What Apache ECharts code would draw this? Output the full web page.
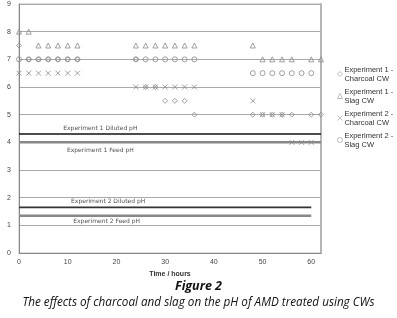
<!DOCTYPE html>
<html>
<head>
<meta charset="utf-8">
<script src="https://cdn.jsdelivr.net/npm/echarts@6/dist/echarts.min.js"></script>
<style>
  html, body { margin: 0; padding: 0; background: #fff; }
  #chart { width: 397px; height: 318px; }
</style>
</head>
<body>
<div id="chart"></div>
<script>
// measured pH, [time in hours, pH]
const exp1Charcoal = [[0, 7.5], [2, 7], [4, 7], [6, 7], [8, 7], [10, 7], [12, 7],
  [24, 7], [26, 6], [28, 6], [30, 5.5], [32, 5.5], [34, 5.5], [36, 5],
  [48, 5], [50, 5], [52, 5], [54, 5], [56, 5], [60, 5], [62, 5]]
const exp1Slag = [[0, 8], [2, 8], [4, 7.5], [6, 7.5], [8, 7.5], [10, 7.5], [12, 7.5],
  [24, 7.5], [26, 7.5], [28, 7.5], [30, 7.5], [32, 7.5], [34, 7.5], [36, 7.5],
  [48, 7.5], [50, 7], [52, 7], [54, 7], [56, 7], [60, 7], [62, 7]]
const exp2Charcoal = [[0, 6.5], [2, 6.5], [4, 6.5], [6, 6.5], [8, 6.5], [10, 6.5], [12, 6.5],
  [24, 6], [26, 6], [28, 6], [30, 6], [32, 6], [34, 6], [36, 6],
  [48, 5.5], [50, 5], [52, 5], [54, 5], [56, 4], [58, 4], [60, 4]]
const exp2Slag = [[0, 7], [2, 7], [4, 7], [6, 7], [8, 7], [10, 7], [12, 7],
  [24, 7], [26, 7], [28, 7], [30, 7], [32, 7], [34, 7], [36, 7],
  [48, 6.5], [50, 6.5], [52, 6.5], [54, 6.5], [56, 6.5], [58, 6.5], [60, 6.5]]

// reference pH levels
const refNames = ['Experiment 1 Diluted pH', 'Experiment 1 Feed pH', 'Experiment 2 Diluted pH', 'Experiment 2 Feed pH']
const refValues = [4.3, 4.0, 1.65, 1.35]
const refEnds = [62, 62, 60, 60]
const refLabelAt = [[16.7, 4.5], [16.7, 3.72], [18.3, 1.88], [18, 1.13]]

const seriesNames = ['Experiment 1 -\nCharcoal CW', 'Experiment 1 -\nSlag CW', 'Experiment 2 -\nCharcoal CW', 'Experiment 2 -\nSlag CW']

const chart = echarts.init(document.getElementById('chart'))
const markerColor = '#8a8a8a'
const xSymbol = 'path://M0,0L10,10M10,0L0,10'

function scatter(name, data, symbol) {
  return {
    name: name,
    type: 'scatter',
    data: data,
    symbol: symbol,
    symbolSize: 5,
    z: 5,
    itemStyle: { color: 'none', borderColor: markerColor, borderWidth: 1 },
  }
}

const refColors = ['#111', '#888', '#333', '#888']
const refSeries = refValues.map((v, i) => ({
  type: 'line',
  data: [[0, v], [refEnds[i], v]],
  symbol: 'none',
  silent: true,
  lineStyle: { color: refColors[i], width: i % 2 ? 2.5 : 1.6 },
  z: 3,
}))

const option = {
  animation: false,
  grid: {
    left: 19, right: 76, top: 4, bottom: 65,
    outerBoundsMode: 'none',
    show: true, borderColor: '#bbb', borderWidth: 1,
  },
  legend: {
    data: seriesNames,
    orient: 'vertical',
    left: 337,
    top: 65,
    padding: 0,
    itemWidth: 5,
    itemHeight: 5,
    itemGap: 4,
    itemStyle: { color: '#fff', borderColor: '#999', borderWidth: 0.8 },
    textStyle: { fontSize: 7.5, color: '#333', lineHeight: 9, fontFamily: 'Liberation Sans', padding: [0, 0, 0, -3] },
  },
  xAxis: {
    type: 'value',
    min: 0,
    max: 62,
    interval: 10,
    name: 'Time / hours',
    nameLocation: 'middle',
    nameGap: 17,
    nameTextStyle: { fontSize: 7, fontWeight: 'bold', color: '#333', fontFamily: 'Liberation Sans' },
    axisLine: { lineStyle: { color: '#888' } },
    axisTick: { show: false },
    splitLine: { show: false },
    axisLabel: { fontSize: 7, color: '#444', showMaxLabel: false, margin: 6 },
  },
  yAxis: [
    {
      type: 'value',
      min: 0,
      max: 9,
      interval: 1,
      name: 'pH',
      nameLocation: 'middle',
      nameGap: 13,
      nameTextStyle: { fontSize: 7, fontWeight: 'bold', color: '#333' },
      axisLine: { show: true, lineStyle: { color: '#888' } },
      axisTick: { show: false },
      splitLine: { lineStyle: { color: '#aaa', width: 1 } },
      axisLabel: { fontSize: 7, color: '#444', margin: 8 },
    },
    {
      type: 'value',
      min: 0,
      max: 9,
      position: 'right',
      axisLine: { show: true, lineStyle: { color: '#b5b5b5', width: 2 } },
      axisTick: { show: false },
      axisLabel: { show: false },
      splitLine: { show: false },
    },
  ],
  series: [
    scatter(seriesNames[0], exp1Charcoal, 'diamond'),
    scatter(seriesNames[1], exp1Slag, 'triangle'),
    scatter(seriesNames[2], exp2Charcoal, xSymbol),
    scatter(seriesNames[3], exp2Slag, 'circle'),
    ...refSeries,
    {
      type: 'scatter',
      silent: true,
      symbolSize: 0,
      data: refLabelAt.map((p, i) => ({ value: p, name: refNames[i] })),
      label: {
        show: true,
        position: 'inside',
        formatter: (p) => p.name,
        fontSize: 6,
        color: '#222',
        fontFamily: 'DejaVu Sans',
      },
    },
  ],
  graphic: [
    {
      type: 'text',
      left: 'center',
      top: 280,
      style: { text: 'Figure 2', font: 'italic bold 12.5px "Open Sans"', fill: '#111' },
    },
    {
      type: 'text',
      left: 'center',
      top: 297,
      style: { text: 'The effects of charcoal and slag on the pH of AMD treated using CWs', font: 'italic 11.7px "Open Sans"', fill: '#111' },
    },
  ],
}
chart.setOption(option)
</script>
</body>
</html>
